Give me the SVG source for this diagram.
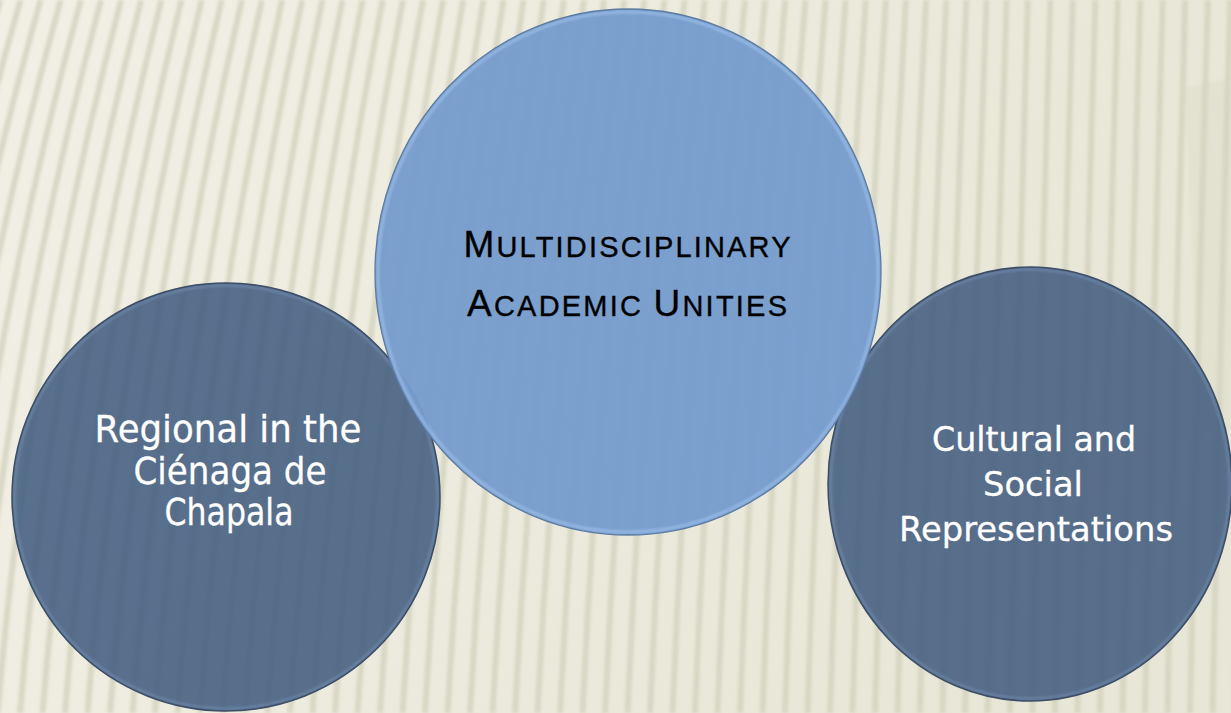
<svg xmlns="http://www.w3.org/2000/svg" width="1231" height="713" viewBox="0 0 1231 713">
<defs>
<style>
.stripe{fill:none;stroke:#d5d3bf;stroke-width:6;stroke-opacity:0.85}
.lbl{font-family:"DejaVu Sans","Liberation Sans",sans-serif;fill:#ffffff;text-anchor:middle;stroke:#ffffff;stroke-width:0.3}
.title{font-family:"Liberation Sans",Arial,sans-serif;fill:#000000;text-anchor:middle;stroke:#000000;stroke-width:0.35}
.dark{fill:#435d81;fill-opacity:0.88}
.darkline{fill:none;stroke:#3c4d66;stroke-width:1.5}
.darkrim{fill:none;stroke:#86a4cc;stroke-width:2;stroke-opacity:0.45}
.light{fill:#769ccd;fill-opacity:0.96}
.lightline{fill:none;stroke:#5c7ba3;stroke-width:1.3}
.lightrim{fill:none;stroke:#a3c4ee;stroke-width:3;stroke-opacity:0.6}
</style>
<linearGradient id="bg" x1="0" y1="0" x2="1" y2="0.3">
<stop offset="0" stop-color="#f2f0e5"/>
<stop offset="1" stop-color="#e8e6d6"/>
</linearGradient>
<filter id="soft" x="-2%" y="-2%" width="104%" height="104%"><feGaussianBlur stdDeviation="1.8"/></filter>
<filter id="rim" x="-5%" y="-5%" width="110%" height="110%"><feGaussianBlur stdDeviation="1"/></filter>
</defs>
<rect width="1231" height="713" fill="url(#bg)"/>
<g id="stripes" class="stripe" filter="url(#soft)">
<path d="M-250 713Q-214.4 356.5-100.3 0"/>
<path d="M-227.5 713Q-192.4 356.5-80.1 0"/>
<path d="M-205 713Q-170.4 356.5-60 0"/>
<path d="M-182.5 713Q-148.4 356.5-39.9 0"/>
<path d="M-160 713Q-126.4 356.5-19.8 0"/>
<path d="M-137.5 713Q-104.4 356.5 0.4 0"/>
<path d="M-115 713Q-82.4 356.5 20.5 0"/>
<path d="M-92.5 713Q-60.4 356.5 40.6 0"/>
<path d="M-70 713Q-38.5 356.5 60.7 0"/>
<path d="M-47.5 713Q-16.5 356.5 80.8 0"/>
<path d="M-25 713Q5.5 356.5 101 0"/>
<path d="M-2.5 713Q27.5 356.5 121.1 0"/>
<path d="M20 713Q49.5 356.5 141.2 0"/>
<path d="M42.5 713Q71.5 356.5 161.4 0"/>
<path d="M65 713Q93.5 356.5 181.5 0"/>
<path d="M87.5 713Q115.5 356.5 201.6 0"/>
<path d="M110 713Q137.4 356.5 221.7 0"/>
<path d="M132.5 713Q159.4 356.5 241.9 0"/>
<path d="M155 713Q181.4 356.5 262 0"/>
<path d="M177.5 713Q203.4 356.5 282.1 0"/>
<path d="M200 713Q225.4 356.5 302.2 0"/>
<path d="M222.5 713Q247.4 356.5 322.4 0"/>
<path d="M245 713Q269.4 356.5 342.5 0"/>
<path d="M267.5 713Q291.3 356.5 362.6 0"/>
<path d="M290 713Q313.3 356.5 382.7 0"/>
<path d="M312.5 713Q335.3 356.5 402.9 0"/>
<path d="M335 713Q357.3 356.5 423 0"/>
<path d="M357.5 713Q379.3 356.5 443.1 0"/>
<path d="M380 713Q401.3 356.5 463.2 0"/>
<path d="M402.5 713Q423.3 356.5 483.4 0"/>
<path d="M425 713Q445.3 356.5 503.5 0"/>
<path d="M447.5 713Q467.2 356.5 523.6 0"/>
<path d="M470 713Q489.2 356.5 543.8 0"/>
<path d="M492.5 713Q511.2 356.5 563.9 0"/>
<path d="M515 713Q533.2 356.5 584 0"/>
<path d="M537.5 713Q555.2 356.5 604.1 0"/>
<path d="M560 713Q577.2 356.5 624.3 0"/>
<path d="M582.5 713Q599.2 356.5 644.4 0"/>
<path d="M605 713Q621.1 356.5 664.5 0"/>
<path d="M627.5 713Q643.1 356.5 684.6 0"/>
<path d="M650 713Q665.1 356.5 704.8 0"/>
<path d="M672.5 713Q687.1 356.5 724.9 0"/>
<path d="M695 713Q709.1 356.5 745 0"/>
<path d="M717.5 713Q731.1 356.5 765.1 0"/>
<path d="M740 713Q753.1 356.5 785.3 0"/>
<path d="M762.5 713Q775 356.5 805.4 0"/>
<path d="M785 713Q797 356.5 825.5 0"/>
<path d="M807.5 713Q819 356.5 845.6 0"/>
<path d="M830 713Q841 356.5 865.8 0"/>
<path d="M852.5 713Q863 356.5 885.9 0"/>
<path d="M875 713Q885 356.5 906 0"/>
<path d="M897.5 713Q907 356.5 926.1 0"/>
<path d="M920 713Q929 356.5 946.3 0"/>
<path d="M942.5 713Q950.9 356.5 966.4 0"/>
<path d="M965 713Q972.9 356.5 986.5 0"/>
<path d="M987.5 713Q994.9 356.5 1006.6 0"/>
<path d="M1010 713Q1017.1 356.5 1027.8 0"/>
<path d="M1032.5 713Q1039.6 356.5 1050.3 0"/>
<path d="M1055 713Q1062.1 356.5 1072.8 0"/>
<path d="M1077.5 713Q1084.6 356.5 1095.3 0"/>
<path d="M1100 713Q1107.1 356.5 1117.8 0"/>
<path d="M1122.5 713Q1129.6 356.5 1140.3 0"/>
<path d="M1145 713Q1152.1 356.5 1162.8 0"/>
<path d="M1167.5 713Q1174.6 356.5 1185.3 0"/>
<path d="M1190 713Q1197.1 356.5 1207.8 0"/>
<path d="M1212.5 713Q1219.6 356.5 1230.3 0"/>
<path d="M1235 713Q1242 356.5 1253 0"/>
</g>
<polygon points="1185,88 1231,78 1231,430 1200,430" fill="#d4d2bf" fill-opacity="0.25" filter="url(#soft)"/>
<g id="connectors"/>
<g id="node-left">
<ellipse class="dark" cx="226" cy="497" rx="214" ry="214"/>
<ellipse class="darkrim" cx="226" cy="497" rx="211.5" ry="211.5" filter="url(#rim)"/>
<ellipse class="darkline" cx="226" cy="497" rx="214" ry="214"/>
<text class="lbl" font-size="38" x="228" y="442" textLength="267" lengthAdjust="spacingAndGlyphs">Regional in the</text>
<text class="lbl" font-size="38" x="230" y="484" textLength="193" lengthAdjust="spacingAndGlyphs">Ciénaga de</text>
<text class="lbl" font-size="38" x="229" y="525" textLength="129" lengthAdjust="spacingAndGlyphs">Chapala</text>
</g>
<g id="node-right">
<ellipse class="dark" cx="1030" cy="484" rx="202" ry="217"/>
<ellipse class="darkrim" cx="1030" cy="484" rx="199.5" ry="214.5" filter="url(#rim)"/>
<ellipse class="darkline" cx="1030" cy="484" rx="202" ry="217"/>
<text class="lbl" font-size="34" x="1034" y="451" textLength="204" lengthAdjust="spacingAndGlyphs">Cultural and</text>
<text class="lbl" font-size="34" x="1033" y="496" textLength="100" lengthAdjust="spacingAndGlyphs">Social</text>
<text class="lbl" font-size="34" x="1036" y="541" textLength="274" lengthAdjust="spacingAndGlyphs">Representations</text>
</g>
<g id="node-center">
<ellipse class="light" cx="628" cy="272" rx="253" ry="263"/>
<ellipse class="lightrim" cx="628" cy="272" rx="250" ry="260" filter="url(#rim)"/>
<ellipse class="lightline" cx="628" cy="272" rx="253" ry="263"/>
<text class="title" x="627" y="257" textLength="327" lengthAdjust="spacing"><tspan font-size="37">M</tspan><tspan font-size="29">ULTIDISCIPLINARY</tspan></text>
<text class="title" x="627" y="316" textLength="320" lengthAdjust="spacing"><tspan font-size="37">A</tspan><tspan font-size="29">CADEMIC </tspan><tspan font-size="37">U</tspan><tspan font-size="29">NITIES</tspan></text>
</g>
</svg>
